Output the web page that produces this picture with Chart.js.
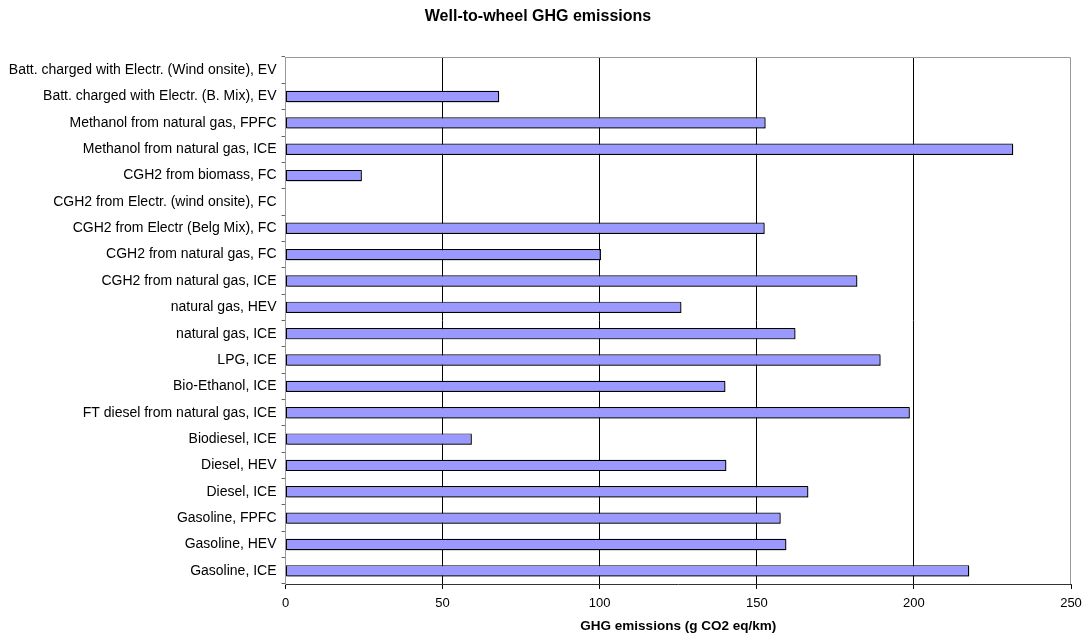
<!DOCTYPE html>
<html>
<head>
<meta charset="utf-8">
<script src="https://cdn.jsdelivr.net/npm/chart.js@4/dist/chart.umd.min.js"></script>
<style>
  body { margin: 0; background: #fff; }
  #wrap { width: 1089px; height: 641px; }
</style>
</head>
<body>
<div id="wrap"><canvas id="ghg-chart" width="1089" height="641"></canvas></div>
<script>
// categories, top to bottom as in the original sheet
var pathways = [
  "Batt. charged with Electr. (Wind onsite), EV",
  "Batt. charged with Electr. (B. Mix), EV",
  "Methanol from natural gas, FPFC",
  "Methanol from natural gas, ICE",
  "CGH2 from biomass, FC",
  "CGH2 from Electr. (wind onsite), FC",
  "CGH2 from Electr (Belg Mix), FC",
  "CGH2 from natural gas, FC",
  "CGH2 from natural gas, ICE",
  "natural gas, HEV",
  "natural gas, ICE",
  "LPG, ICE",
  "Bio-Ethanol, ICE",
  "FT diesel from natural gas, ICE",
  "Biodiesel, ICE",
  "Diesel, HEV",
  "Diesel, ICE",
  "Gasoline, FPFC",
  "Gasoline, HEV",
  "Gasoline, ICE"
];
// g CO2 eq/km
var emissions = [0, 68, 152.8, 231.6, 24.3, 0, 152.5, 100.4, 182, 126, 162.3, 189.4, 140, 198.7, 59.3, 140.3, 166.4, 157.6, 159.4, 217.6];
var xTicks = [0, 50, 100, 150, 200, 250];

var fontFam = "'Liberation Sans', Arial, sans-serif";

// grey frame on top/right like the excel plot area
var frame = {
  id: 'frame',
  beforeDatasetsDraw: function(chart) {
    var a = chart.chartArea, c = chart.ctx;
    c.save();
    c.strokeStyle = '#999';
    c.lineWidth = 1;
    c.beginPath();
    c.moveTo(a.left, a.top + 0.5);
    c.lineTo(a.right - 0.5, a.top + 0.5);
    c.lineTo(a.right - 0.5, a.bottom);
    c.stroke();
    c.restore();
  }
};

// little drop shadow under the bars
var barShadow = {
  id: 'barShadow',
  beforeDatasetDraw: function(chart) {
    var c = chart.ctx;
    c.save();
    c.shadowColor = 'rgba(0,0,0,0.4)';
    c.shadowOffsetX = 1.5;
    c.shadowOffsetY = 1.5;
    c.shadowBlur = 0;
  },
  afterDatasetDraw: function(chart) {
    chart.ctx.restore();
  }
};

var ghgChart = new Chart(document.getElementById("ghg-chart"), {
  type: 'bar',
  data: {
    labels: pathways,
    datasets: [{
      label: 'GHG emissions',
      data: emissions,
      backgroundColor: '#9999ff',
      borderColor: '#000',
      borderWidth: 1.2,
      borderSkipped: false,
      barPercentage: 0.43,
      categoryPercentage: 1
    }]
  },
  options: {
    indexAxis: 'y',
    responsive: false,
    animation: false,
    layout: { padding: { left: 5, right: 18, top: 0, bottom: 0 } },
    plugins: {
      legend: { display: false },
      tooltip: { enabled: false },
      title: {
        display: true,
        text: 'Well-to-wheel GHG emissions',
        color: '#000',
        font: { family: fontFam, size: 16, weight: 'bold' },
        padding: { top: 7, bottom: 30.8 }
      }
    },
    scales: {
      x: {
        min: 0,
        max: 250,
        afterBuildTicks: function(scale) {
          scale.ticks = xTicks.map(function(v) { return { value: v }; });
        },
        afterFit: function(scale) { scale.height = 57; },
        grid: {
          color: function(ctx) {
            var v = ctx.tick ? ctx.tick.value : null;
            return (v === 0 || v === 250) ? 'rgba(0,0,0,0)' : '#000';
          },
          tickColor: '#000',
          tickLength: 5,
          lineWidth: 1
        },
        border: { color: '#333', width: 1 },
        ticks: {
          color: '#000',
          padding: 7,
          font: { family: fontFam, size: 13 }
        },
        title: {
          display: true,
          text: 'GHG emissions (g CO2 eq/km)',
          color: '#000',
          font: { family: fontFam, size: 13.5, weight: 'bold' },
          padding: { top: 4, bottom: 7 }
        }
      },
      y: {
        afterFit: function(scale) { scale.width = 280.5; },
        grid: {
          display: true,
          offset: true,
          drawOnChartArea: false,
          tickLength: 4,
          tickColor: '#666'
        },
        border: { color: '#999', width: 1 },
        ticks: {
          color: '#000',
          padding: 5,
          autoSkip: false,
          font: { family: fontFam, size: 14 }
        }
      }
    }
  },
  plugins: [frame, barShadow]
});
</script>
</body>
</html>
